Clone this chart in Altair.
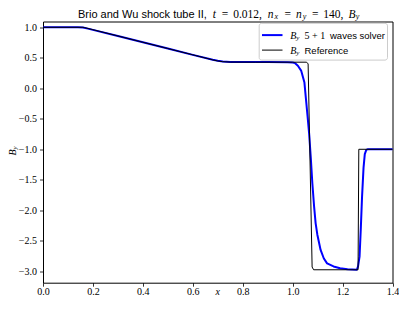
import altair as alt
import pandas as pd

# ---- data ----
solver_x = [0.0, 0.14, 0.16, 0.18, 0.2, 0.3, 0.4, 0.5, 0.6, 0.68, 0.7, 0.72, 0.75, 0.8, 0.9,
            0.98, 1.0, 1.01, 1.021, 1.034, 1.047, 1.053, 1.06, 1.066, 1.073, 1.079, 1.086,
            1.092, 1.099, 1.112, 1.125, 1.138, 1.164, 1.19, 1.22, 1.257, 1.262, 1.268,
            1.273, 1.278, 1.284, 1.289, 1.295, 1.30, 1.4]
solver_by = [1.0, 1.0, 0.995, 0.978, 0.958, 0.856, 0.754, 0.651, 0.548, 0.468, 0.452, 0.44,
             0.432, 0.43, 0.43, 0.428, 0.424, 0.412, 0.37, 0.29, 0.1, -0.16, -0.47, -0.74,
             -1.16, -1.56, -1.94, -2.21, -2.40, -2.65, -2.79, -2.87, -2.92, -2.95, -2.965,
             -2.975, -2.92, -2.76, -2.3, -1.78, -1.3, -1.08, -1.01, -1.0, -1.0]

ref_x = [0.0, 0.16, 0.165, 0.2, 0.3, 0.4, 0.5, 0.6, 0.68, 0.70, 0.72, 0.75, 0.85, 1.0,
         1.056, 1.062, 1.078, 1.084, 1.262, 1.265, 1.4]
ref_by = [1.0, 1.0, 0.996, 0.961, 0.858, 0.755, 0.652, 0.549, 0.466, 0.448, 0.436, 0.430,
          0.428, 0.428, 0.428, 0.40, -2.93, -2.975, -2.975, -1.0, -1.0]

x_ticks = [0.0, 0.2, 0.4, 0.6, 0.8, 1.0, 1.2, 1.4]
y_ticks = [-3.0, -2.5, -2.0, -1.5, -1.0, -0.5, 0.0, 0.5, 1.0]

SERIF = "Liberation Serif"
SANS = "Liberation Sans"

solver = pd.DataFrame({"x": solver_x, "By": solver_by, "i": list(range(len(solver_x)))})
ref = pd.DataFrame({"x": ref_x, "By": ref_by, "i": list(range(len(ref_x)))})
one = pd.DataFrame({"_": [0]})

xs = alt.Scale(domain=[0, 1.4], nice=False, zero=False)
ys = alt.Scale(domain=[-3.187, 1.095], nice=False, zero=False)


def axis(vals, pad):
    return alt.Axis(values=vals, format=".1f", title=None, grid=False, domain=False,
                    tickSize=3.5, tickColor="black", tickWidth=0.8,
                    labelFont=SERIF, labelFontSize=10, labelColor="black",
                    labelPadding=pad, labelFlush=False, labelOverlap=False)


enc = dict(
    x=alt.X("x:Q", scale=xs, axis=axis(x_ticks, 0)),
    y=alt.Y("By:Q", scale=ys, axis=axis(y_ticks, 3)),
    order="i:Q",
)

blue = alt.Chart(solver).mark_line(color="#0000ff", strokeWidth=2, strokeJoin="round").encode(**enc)
black = alt.Chart(ref).mark_line(color="black", strokeWidth=1, strokeJoin="round").encode(**enc)


def txt(s, x, y, size=10, font=SERIF, style="normal", angle=0, align="left"):
    kw = dict(text=s, font=font, fontSize=size, fontStyle=style, align=align,
              baseline="alphabetic", color="black")
    if angle:
        kw["angle"] = angle
    return alt.Chart(one).mark_text(**kw).encode(x=alt.value(x), y=alt.value(y))


layers = [blue, black]

# legend box
layers.append(alt.Chart(one).mark_rect(fill="white", fillOpacity=0.8, stroke="#cccccc",
                                       strokeWidth=1, cornerRadius=2.5).encode(
    x=alt.value(216.2), x2=alt.value(344.5), y=alt.value(1.8), y2=alt.value(38.6)))
layers.append(alt.Chart(one).mark_rule(color="#0000ff", strokeWidth=2).encode(
    x=alt.value(219), x2=alt.value(239.5), y=alt.value(13.6)))
layers.append(alt.Chart(one).mark_rule(color="black", strokeWidth=1).encode(
    x=alt.value(219), x2=alt.value(239.5), y=alt.value(28.6)))
# legend labels
layers += [
    txt("B", 247.2, 17.1, 10, SERIF, "italic"),
    txt("y", 253.3, 18.6, 7, SERIF, "italic"),
    txt("5 + 1", 261.5, 17.1, 10, SERIF),
    txt("waves solver", 287, 17.1, 9.5, SANS),
    txt("B", 247.2, 32.1, 10, SERIF, "italic"),
    txt("y", 253.3, 33.6, 7, SERIF, "italic"),
    txt("Reference", 261.5, 32.1, 9.5, SANS),
]

# title: Brio and Wu shock tube II, t = 0.012, n_x = n_y = 140, B_y
tb, sb = -3.2, -2.2
MS, SS = 11.5, 8
layers += [
    txt("Brio and Wu shock tube II,", 35.0, tb, 11, SANS),
    txt("t", 169.75, tb, MS, SERIF, "italic"),
    txt("=", 182.1, tb, MS, SERIF, align="center"),
    txt("0.012,", 190.15, tb, MS, SERIF),
    txt("n", 224.85, tb, MS, SERIF, "italic"),
    txt("x", 231.6, sb, SS, SERIF, "italic"),
    txt("=", 244.8, tb, MS, SERIF, align="center"),
    txt("n", 252.95, tb, MS, SERIF, "italic"),
    txt("y", 259.7, sb, SS, SERIF, "italic"),
    txt("=", 272.2, tb, MS, SERIF, align="center"),
    txt("140,", 280.25, tb, MS, SERIF),
    txt("B", 305.55, tb, MS, SERIF, "italic"),
    txt("y", 312.8, sb, SS, SERIF, "italic"),
]

# axis titles
layers += [
    txt("B", -27, 134.1, 10, SERIF, "italic", angle=270),
    txt("y", -26.2, 128.0, 7, SERIF, "italic", angle=270),
    txt("x", 174.75, 273, 10, SERIF, "italic", align="center"),
]

chart = alt.layer(*layers).properties(
    width=349.5, height=261.2,
    padding={"left": 35, "top": 13.5, "right": 6.5, "bottom": 14.3},
    autosize=alt.AutoSizeParams(type="none"),
).configure_view(stroke="black", strokeWidth=1)

chart.save("out.html", embed_options={"renderer": "svg", "actions": False})
